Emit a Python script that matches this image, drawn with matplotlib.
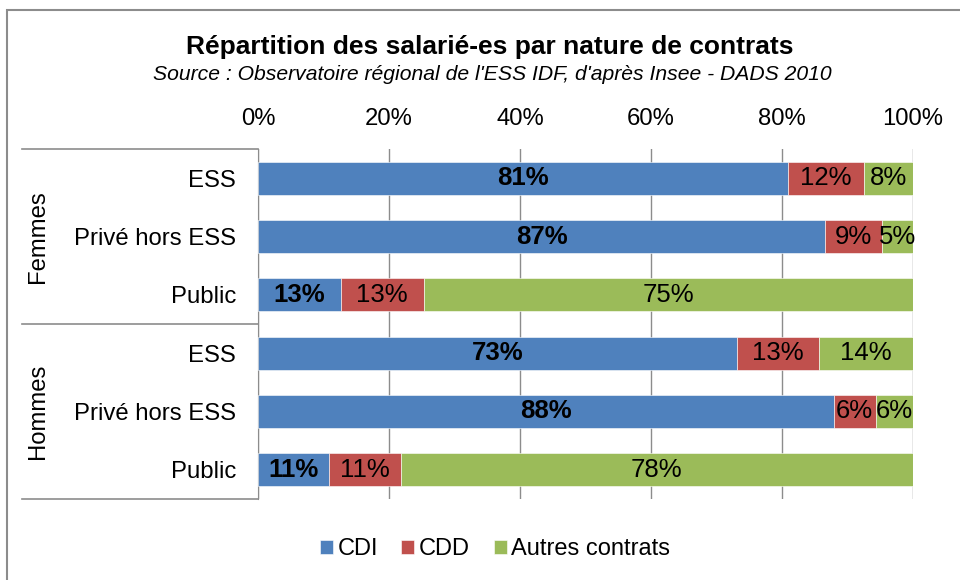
import matplotlib
matplotlib.use("Agg")
import matplotlib.pyplot as plt
import numpy as np

plt.rcParams['font.family'] = ['Liberation Sans', 'DejaVu Sans']

# data (share of each contract type, in %)
categories = ['ESS', 'Privé hors ESS', 'Public', 'ESS', 'Privé hors ESS', 'Public']
groups = ['Femmes', 'Hommes']
cdi = [80.9, 86.6, 12.6, 73.1, 87.9, 10.9]
cdd = [11.6, 8.7, 12.7, 12.6, 6.4, 10.9]
autres = [7.5, 4.7, 74.7, 14.3, 5.7, 78.2]
series_names = ['CDI', 'CDD', 'Autres contrats']
colors = ['#4F81BD', '#C0504D', '#9BBB59']

fs = 17.2
fig = plt.figure(figsize=(9.6, 5.8), dpi=100)
ax = fig.add_axes([258/960, 1 - 499/580, 655/960, 350/580])

y = np.arange(len(categories))
left = np.zeros(len(categories))
for vals, name, col in zip([cdi, cdd, autres], series_names, colors):
    vals = np.array(vals)
    ax.barh(y, vals, left=left, height=0.57, color=col, edgecolor='white', linewidth=0.4, label=name, zorder=3)
    for yi, l, v in zip(y, left, vals):
        ax.text(l + v / 2, yi, f"{v:.0f}%", ha='center', va='center', fontsize=18.5,
                fontweight='bold' if name == 'CDI' else 'normal', zorder=4)
    left = left + vals

ax.set_xlim(0, 100)
ax.set_ylim(5.5, -0.5)
ax.set_xticks(np.arange(0, 101, 20))
ax.set_xticklabels([f"{t}%" for t in range(0, 101, 20)], fontsize=fs)
ax.xaxis.tick_top()
ax.tick_params(axis='x', length=0, pad=14)
ax.set_yticks(y)
ax.set_yticklabels(categories, fontsize=fs)
ax.tick_params(axis='y', length=0, pad=16)
ax.grid(axis='x', color='#8c8c8c', linewidth=1, zorder=0)
for s in ['top', 'right', 'bottom']:
    ax.spines[s].set_visible(False)
ax.spines['left'].set_color('#8c8c8c')

# box around the category labels
tr = ax.get_yaxis_transform()
for yy in [-0.5, 2.5, 5.5]:
    ax.plot([-(258 - 22) / 655, 0], [yy, yy], color='#8c8c8c', linewidth=1.2, transform=tr, clip_on=False)
for g, yc in zip(groups, [1, 4]):
    ax.text(-(258 - 38) / 655, yc, g, rotation=90, ha='center', va='center', fontsize=fs, transform=tr)

fig.text(490/960, 1 - 47/580, 'Répartition des salarié-es par nature de contrats',
         ha='center', va='center', fontsize=19, fontweight='bold')
fig.text(492/960, 1 - 75/580, "Source : Observatoire régional de l'ESS IDF, d'après Insee - DADS 2010",
         ha='center', va='center', fontsize=15.2, style='italic')

fig.legend(loc='center', bbox_to_anchor=(495/960, 1 - 549/580), ncol=3, frameon=False, fontsize=17,
           handlelength=0.55, handleheight=0.55, handletextpad=0.2, columnspacing=1.0)

# outer chart frame
fig.patches.append(plt.Rectangle((7/960, -0.05), 1.1, 1 - 10/580 + 0.05, transform=fig.transFigure,
                                 fill=False, edgecolor='#8c8c8c', linewidth=1.5))

fig.savefig('out.png', dpi=100)
